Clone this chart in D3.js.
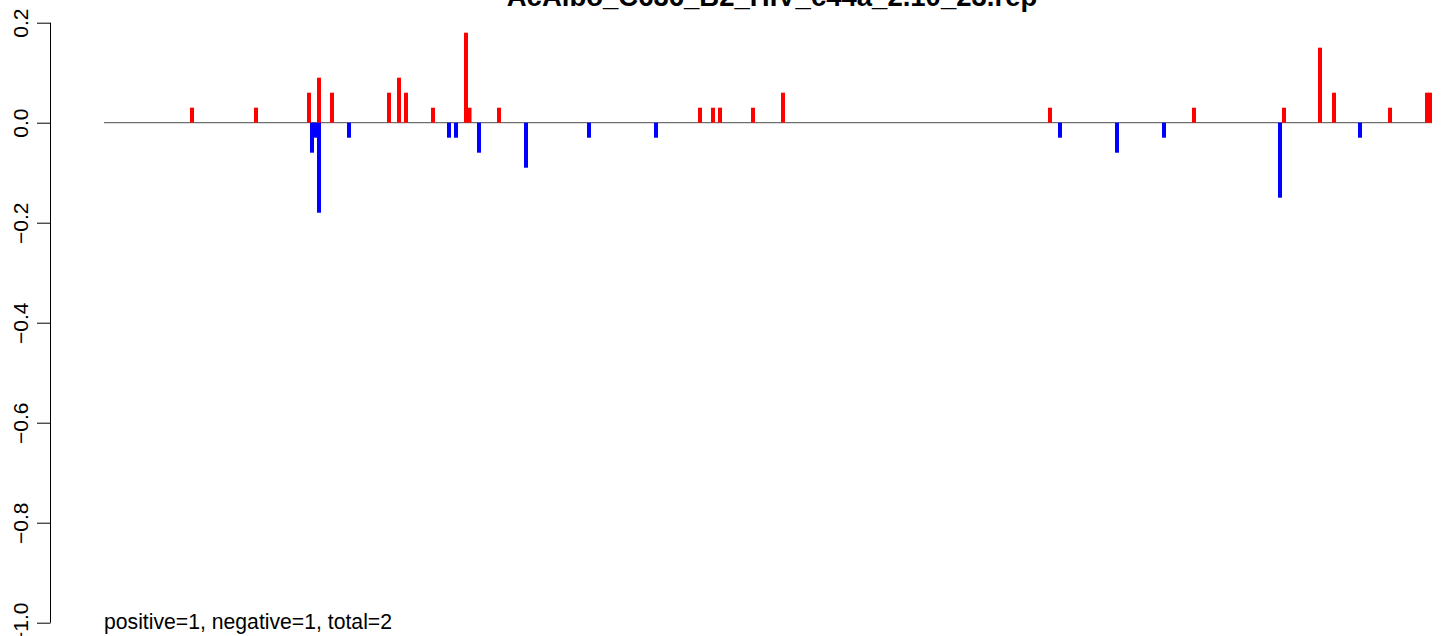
<!DOCTYPE html>
<html>
<head>
<meta charset="utf-8">
<script src="https://cdn.jsdelivr.net/npm/d3@7"></script>
<style>
  html, body { margin: 0; padding: 0; background: #fff; }
  svg { display: block; }
  text { font-family: "Liberation Sans", Arial, sans-serif; }
</style>
</head>
<body>
<svg id="chart" width="1441" height="636"></svg>
<script>
// ---- data ----
const title = "AcAlbo_C636_B2_HIV_c44a_2.10_23.rep";
const footer = "positive=1, negative=1, total=2";
const yTicks = [0.2, 0.0, -0.2, -0.4, -0.6, -0.8, -1.0];
const posPositions = [88, 152, 205, 215, 228, 285, 295, 302, 329, 362, 365.5, 395, 596, 609, 616, 649, 679, 946, 1090, 1180, 1216, 1230, 1286, 1323, 1326];
const posValues    = [0.03, 0.03, 0.06, 0.09, 0.06, 0.06, 0.09, 0.06, 0.03, 0.18, 0.03, 0.03, 0.03, 0.03, 0.03, 0.03, 0.06, 0.03, 0.03, 0.03, 0.15, 0.06, 0.03, 0.06, 0.06];
const negPositions = [208, 211, 215, 245, 345, 352, 375, 422, 485, 552, 956, 1013, 1060, 1176, 1256];
const negValues    = [-0.06, -0.03, -0.18, -0.03, -0.03, -0.03, -0.06, -0.09, -0.03, -0.03, -0.03, -0.06, -0.03, -0.15, -0.03];
const xDomain = [0, 1328];

// ---- layout ----
const svg = d3.select("#chart");
const x = d3.scaleLinear().domain(xDomain).range([104, 1432]);
const y = d3.scaleLinear().domain([-1.0, 0.2]).range([622.7, 22.7]);
const barW = 4;

// title
svg.append("text")
  .attr("x", 772).attr("y", 6)
  .attr("text-anchor", "middle")
  .attr("font-weight", "bold")
  .attr("font-size", 27.5)
  .attr("fill", "#000")
  .text(title);

// baseline
svg.append("line")
  .attr("x1", x(xDomain[0])).attr("x2", x(xDomain[1]))
  .attr("y1", y(0)).attr("y2", y(0))
  .attr("stroke", "#4d4d4d").attr("stroke-width", 1);

// bars
const posData = posPositions.map((p, i) => ({p, v: posValues[i]}));
const negData = negPositions.map((p, i) => ({p, v: negValues[i]}));

svg.append("g").selectAll("rect").data(posData).join("rect")
  .attr("x", d => x(d.p) - barW / 2)
  .attr("width", barW)
  .attr("y", d => y(d.v))
  .attr("height", d => y(0) - y(d.v))
  .attr("fill", "#ff0000");

svg.append("g").selectAll("rect").data(negData).join("rect")
  .attr("x", d => x(d.p) - barW / 2)
  .attr("width", barW)
  .attr("y", y(0))
  .attr("height", d => y(d.v) - y(0))
  .attr("fill", "#0000ff");

// y axis
const axis = d3.axisLeft(y)
  .tickValues(yTicks)
  .tickSize(13.5)
  .tickPadding(0)
  .tickFormat(d => d3.format(".1f")(d).replace("-", "\u2212"));
const gAxis = svg.append("g")
  .attr("transform", "translate(50.5,0)")
  .call(axis);
gAxis.select(".domain").attr("d", `M0,${y(-1.0)}V${y(0.2)}`).attr("stroke", "#000");
gAxis.selectAll(".tick line").attr("stroke", "#000");
gAxis.selectAll(".tick text")
  .attr("font-size", 21)
  .attr("font-family", "'Liberation Sans', Arial, sans-serif")
  .attr("fill", "#000")
  .attr("text-anchor", "middle")
  .attr("dy", null)
  .attr("x", null)
  .attr("transform", "translate(-22.5,0) rotate(-90)")
  .attr("y", 0);

// footer
svg.append("text")
  .attr("x", 104).attr("y", 629)
  .attr("font-size", 21.2)
  .attr("fill", "#000")
  .text(footer);
</script>
</body>
</html>
